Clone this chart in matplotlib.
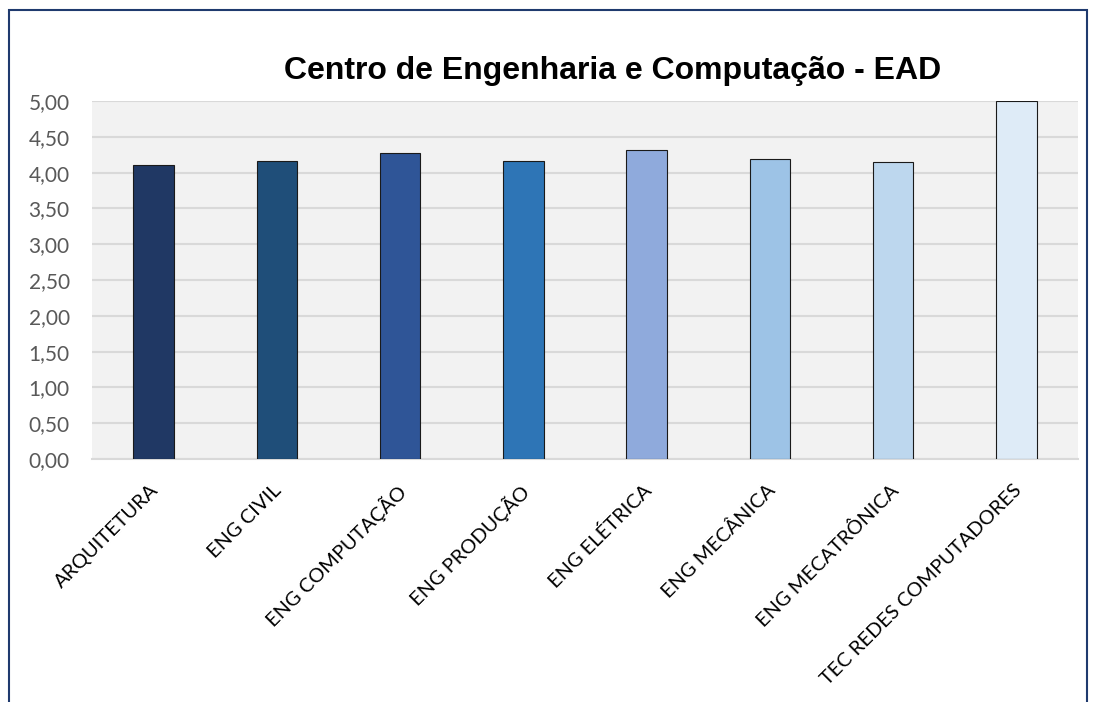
import matplotlib
matplotlib.use("Agg")
import matplotlib.pyplot as plt
from matplotlib.patches import Rectangle
from matplotlib.transforms import ScaledTranslation
from matplotlib.ticker import FuncFormatter, MultipleLocator

# course averages
cursos = ["ARQUITETURA", "ENG CIVIL", "ENG COMPUTAÇÃO", "ENG PRODUÇÃO",
          "ENG ELÉTRICA", "ENG MECÂNICA", "ENG MECATRÔNICA", "TEC REDES COMPUTADORES"]
medias = [4.10, 4.16, 4.27, 4.16, 4.31, 4.19, 4.15, 5.00]
cores = ["#203864", "#1F4E79", "#2F5597", "#2E75B6",
         "#8FAADC", "#9DC3E6", "#BDD7EE", "#DEEBF7"]
titulo = "Centro de Engenharia e Computação - EAD"

fig = plt.figure(figsize=(10.96, 7.02), dpi=100)
ax = fig.add_axes([92 / 1096, 1 - 459 / 702, 986 / 1096, 358 / 702])

# chart border (bottom edge runs off the image)
fig.patches.append(Rectangle((9 / 1096, -0.05), 1078 / 1096, 1 - 10 / 702 + 0.05,
                             transform=fig.transFigure, fill=False,
                             edgecolor="#1F3A6E", linewidth=1.5))

ax.set_facecolor("#F2F2F2")
x = range(len(cursos))
ax.bar(x, medias, width=0.33, color=cores, edgecolor="#1A1A1A", linewidth=0.8, zorder=3)

ax.set_xlim(-0.5, len(cursos) - 0.5)
ax.set_ylim(0, 5)
ax.yaxis.set_major_locator(MultipleLocator(0.5))
ax.yaxis.set_major_formatter(FuncFormatter(lambda v, p: f"{v:.2f}".replace(".", ",")))
ax.grid(axis="y", color="#D9D9D9", linewidth=1.5, zorder=0)
ax.set_axisbelow(True)

for s in ["top", "right", "left"]:
    ax.spines[s].set_visible(False)
ax.spines["bottom"].set_color("#D9D9D9")
ax.spines["bottom"].set_linewidth(1.5)

ax.tick_params(axis="both", length=0)
ax.tick_params(axis="y", labelsize=15, labelcolor="#595959", pad=16)
for lbl in ax.get_yticklabels():
    lbl.set_family("Lato")

ax.set_xticks(list(x))
ax.set_xticklabels(cursos, rotation=45, ha="right", va="top", rotation_mode="anchor",
                   fontsize=14.4, family="Lato", color="black")
ax.tick_params(axis="x", pad=16)
shift = ScaledTranslation(-4 / 100, 0, fig.dpi_scale_trans)
for lbl in ax.get_xticklabels():
    lbl.set_transform(lbl.get_transform() + shift)

fig.text(613 / 1096, 1 - 71 / 702, titulo, ha="center", va="center",
         fontsize=23, fontweight="bold", family="Liberation Sans")

fig.savefig("out.png", dpi=100)
